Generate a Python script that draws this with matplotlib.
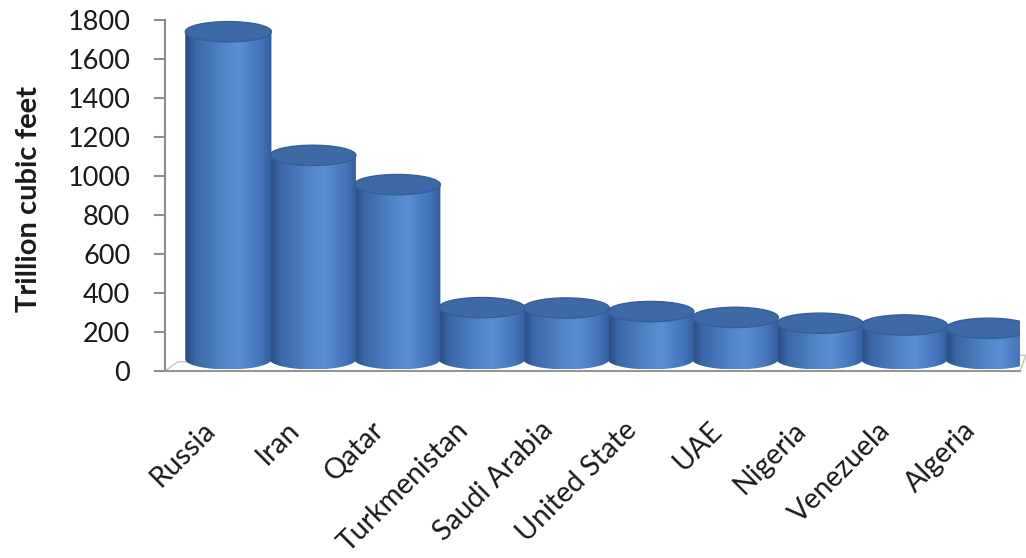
import numpy as np
import matplotlib
matplotlib.use("Agg")
import matplotlib.pyplot as plt
from matplotlib.patches import Polygon, Ellipse
from matplotlib.colors import LinearSegmentedColormap

countries = ["Russia", "Iran", "Qatar", "Turkmenistan", "Saudi Arabia",
             "United State", "UAE", "Nigeria", "Venezuela", "Algeria"]
reserves = [1680, 1046, 896, 265, 263, 245, 215, 185, 176, 159]
yticks = [0, 200, 400, 600, 800, 1000, 1200, 1400, 1600, 1800]

plt.rcParams['font.family'] = ['Lato', 'DejaVu Sans']

fig = plt.figure(figsize=(10.26, 5.58), dpi=100)
ax = fig.add_axes([0.1608, 0.3351, 0.8333, 0.629])

# horizontal shading across a cylinder body
body_cmap = LinearSegmentedColormap.from_list(
    "cyl", [(0.0, "#264a80"), (0.12, "#3a68a8"), (0.5, "#5588cc"),
            (0.62, "#5a8ed3"), (0.88, "#4473b8"), (1.0, "#305c9a")])
grad = np.linspace(0, 1, 256).reshape(1, -1)

w = 1.02          # cylinder width (category units)
base = 60         # depth offset of the cylinder base
eh = 104          # ellipse height in value units

for i, v in enumerate(reserves):
    cx = i + 0.1
    top = base + v
    z = 20 - i
    th = np.linspace(np.pi, 2 * np.pi, 80)
    pts = np.column_stack([cx + w / 2 * np.cos(th), base + eh / 2 * np.sin(th)])
    pts = np.vstack([pts, [cx + w / 2, top], [cx - w / 2, top]])
    poly = Polygon(pts, closed=True, facecolor="none", edgecolor="none",
                   transform=ax.transData)
    ax.add_patch(poly)
    im = ax.imshow(grad, extent=[cx - w / 2, cx + w / 2, base - eh / 2, top],
                   aspect="auto", cmap=body_cmap, zorder=z, interpolation="bilinear")
    im.set_clip_path(poly)
    ax.add_patch(Ellipse((cx, top), w, eh, facecolor="#3d6aa7",
                         edgecolor="#355f98", lw=1.0, zorder=z + 0.5))

# floor outline
floor = Polygon([[0, 0], [1, 0], [1.007, 0.045], [0.015, 0.026]], closed=True,
                facecolor="none", edgecolor="#c9c2bb", lw=1.0,
                transform=ax.transAxes, clip_on=False, zorder=1)
ax.add_patch(floor)

ax.set_xlim(-0.65, 9.47)
ax.set_ylim(0, 1800)
ax.set_yticks(yticks)
ax.set_yticklabels([str(t) for t in yticks], fontsize=19.5, color="#1a1a1a")
ax.set_xticks(np.arange(len(countries)))
ax.set_xticklabels(countries, rotation=45, ha="right", va="top",
                   fontsize=20.5, color="#1a1a1a")
ax.tick_params(axis="x", length=0, pad=33)
ax.tick_params(axis="y", length=8, width=1.5, color="#8c8c8c", pad=17)

for s in ["top", "right"]:
    ax.spines[s].set_visible(False)
ax.spines["left"].set_color("#8c8c8c")
ax.spines["left"].set_linewidth(1.5)
ax.spines["bottom"].set_color("#9a948e")
ax.spines["bottom"].set_linewidth(1.5)

fig.text(0.028, 1 - 199 / 558, "Trillion cubic feet", rotation=90,
         ha="center", va="center", fontsize=21, fontweight="bold", color="#1a1a1a")

fig.savefig("out.png", dpi=100)
